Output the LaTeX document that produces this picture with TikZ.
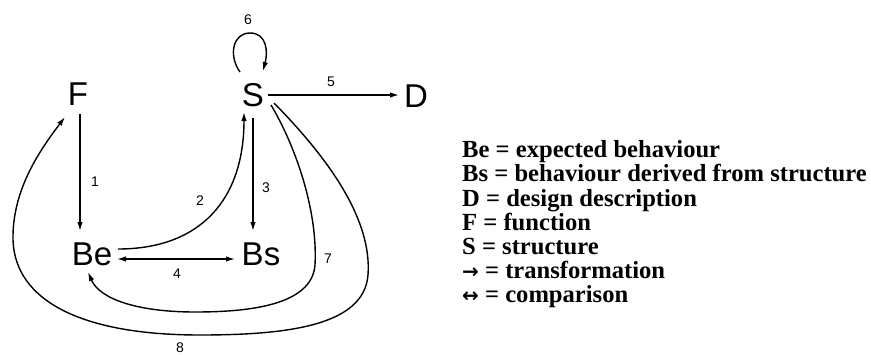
\documentclass[tikz,border=0pt]{standalone}
\usepackage{fontspec}
\setmainfont{Liberation Serif}
\newfontfamily\sansf{Liberation Sans}
\newfontfamily\symf{DejaVu Sans}
\usetikzlibrary{arrows.meta,calc}
\begin{document}
\begin{tikzpicture}[x=1pt,y=-1pt,
  big/.style={font=\sansf\fontsize{33}{33}\selectfont, inner sep=0pt},
  lbl/.style={font=\sansf\fontsize{14}{14}\selectfont, inner sep=0pt},
  conn/.style={line width=1.4pt, -{Latex[length=9pt,width=5.5pt]}},
  biconn/.style={line width=1.4pt, {Latex[length=9pt,width=5.5pt]}-{Latex[length=9pt,width=5.5pt]}},
  leg/.style={font=\bfseries\fontsize{24.6}{24.6}\selectfont, anchor=base west, inner sep=0pt}]
\useasboundingbox (0,0) rectangle (871,354);
% main nodes
\node[big] (F)  at (78,94)  {F};
\node[big] (S)  at (253,95) {S};
\node[big] (D)  at (416,96) {D};
\node[big] (Be) at (92,254) {Be};
\node[big] (Bs) at (261,254) {Bs};
% connectors
\draw[conn] ($(F.center)+(2,20)$) -- ($(Be.center)+(-12,-23)$);
\draw[conn] ($(Be.center)+(26,-5)$) .. controls (200,249) and (244,200) .. ($(S.center)+(-9,17)$);
\draw[conn] ($(S.center)+(0,23)$) -- ($(Bs.center)+(-8,-23)$);
\draw[biconn] ($(Be.center)+(25,5)$) -- ($(Bs.center)+(-26,5)$);
\draw[conn] ($(S.center)+(15,0)$) -- ($(D.center)+(-17,-1)$);
\draw[conn] ($(S.center)+(-13,-23)$) .. controls (228,55) and (233,33) .. (250,33)
   .. controls (267,33) and (268,52) .. ($(S.center)+(10,-24)$);
\draw[conn] ($(S.center)+(18,10)$) .. controls (295,145) and (318,210) .. (315,265)
   .. controls (312,305) and (250,312) .. (195,312)
   .. controls (140,312) and (100,300) .. ($(Be.center)+(-4,18)$);
\draw[conn] ($(S.center)+(21,8)$) .. controls (330,160) and (372,220) .. (368,275)
   .. controls (364,325) and (290,335) .. (200,335)
   .. controls (80,335) and (15,300) .. (13,240)
   .. controls (12,190) and (40,150) .. ($(F.center)+(-13,23)$);
% connector labels
\node[lbl] (l1) at (95,182) {1};
\node[lbl] (l2) at (200,201) {2};
\node[lbl] (l3) at (266,188) {3};
\node[lbl] (l4) at (177,274) {4};
\node[lbl] (l5) at (331,82) {5};
\node[lbl] (l6) at (248,20) {6};
\node[lbl] (l7) at (328,259) {7};
\node[lbl] (l8) at (180,348) {8};
% legend
\node[leg] (g1) at (462,157) {Be = expected behaviour};
\node[leg] (g2) at (462,181) {Bs = behaviour derived from structure};
\node[leg] (g3) at (462,206) {D = design description};
\node[leg] (g4) at (462,230) {F = function};
\node[leg] (g5) at (462,254) {S = structure};
\node[leg] (g6) at (462,278) {{\symf\bfseries\fontsize{20}{20}\selectfont →} = transformation};
\node[leg] (g7) at (462,302) {{\symf\bfseries\fontsize{20}{20}\selectfont ↔} = comparison};
\end{tikzpicture}
\end{document}
